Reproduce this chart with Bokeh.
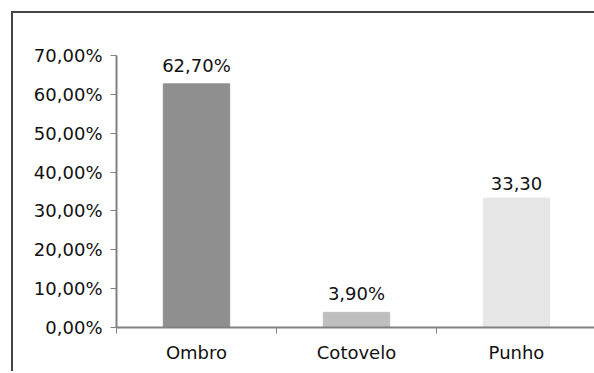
from bokeh.plotting import figure
from bokeh.models import ColumnDataSource, FixedTicker, Range1d, LabelSet
from bokeh.core.properties import value
from bokeh.embed import file_html
from bokeh.resources import INLINE

categories = ["Ombro", "Cotovelo", "Punho"]
values = [62.7, 3.9, 33.3]
value_labels = ["62,70%", "3,90%", "33,30"]
colors = ["#8f8f8f", "#bfbfbf", "#e6e6e6"]
y_ticks = [0, 10, 20, 30, 40, 50, 60, 70]
y_tick_labels = ["0,00%", "10,00%", "20,00%", "30,00%", "40,00%", "50,00%", "60,00%", "70,00%"]

FONT = "DejaVu Sans"
FS = "18px"

xpos = [i + 0.5 for i in range(len(categories))]
bounds = list(range(len(categories) + 1))
src = ColumnDataSource(dict(x=xpos, top=values, color=colors, label=value_labels))

p = figure(width=583, height=360, output_backend="svg", toolbar_location=None,
           x_range=Range1d(0, 3), y_range=Range1d(0, 70),
           min_border_left=103, min_border_right=0, min_border_top=42, min_border_bottom=46)
p.margin = (11, 0, 0, 11)
p.styles = {"border-left": "2px solid #444444", "border-top": "2px solid #444444"}
p.outline_line_color = None
p.grid.visible = False
p.background_fill_color = "white"

p.vbar(x="x", top="top", width=0.415, color="color", source=src)

labels = LabelSet(x="x", y="top", text="label", source=src, text_align="center",
                  text_baseline="bottom", y_offset=8, text_font=value(FONT),
                  text_font_size=value(FS), text_color="#111111")
p.add_layout(labels)

# y axis
ya = p.yaxis[0]
ya.ticker = FixedTicker(ticks=y_ticks)
ya.major_label_overrides = {t: l for t, l in zip(y_ticks, y_tick_labels)}
ya.minor_tick_line_color = None
ya.major_tick_in = 0
ya.major_tick_out = 6
ya.axis_line_color = "#808080"
ya.major_tick_line_color = "#808080"
ya.axis_line_width = 2
ya.major_label_standoff = 8
ya.major_label_text_font = FONT
ya.major_label_text_font_size = FS
ya.major_label_text_color = "#111111"

# x axis: labels at centres, boundary ticks drawn as minor ticks
xa = p.xaxis[0]
xa.ticker = FixedTicker(ticks=xpos, minor_ticks=bounds)
xa.major_label_overrides = {x: c for x, c in zip(xpos, categories)}
xa.major_tick_line_color = None
xa.minor_tick_in = 0
xa.minor_tick_out = 6
xa.minor_tick_line_color = "#808080"
xa.axis_line_color = "#808080"
xa.axis_line_width = 2
xa.major_label_standoff = 8
xa.major_label_text_font = FONT
xa.major_label_text_font_size = FS
xa.major_label_text_color = "#111111"

open("out.html", "w").write(file_html(p, INLINE))
